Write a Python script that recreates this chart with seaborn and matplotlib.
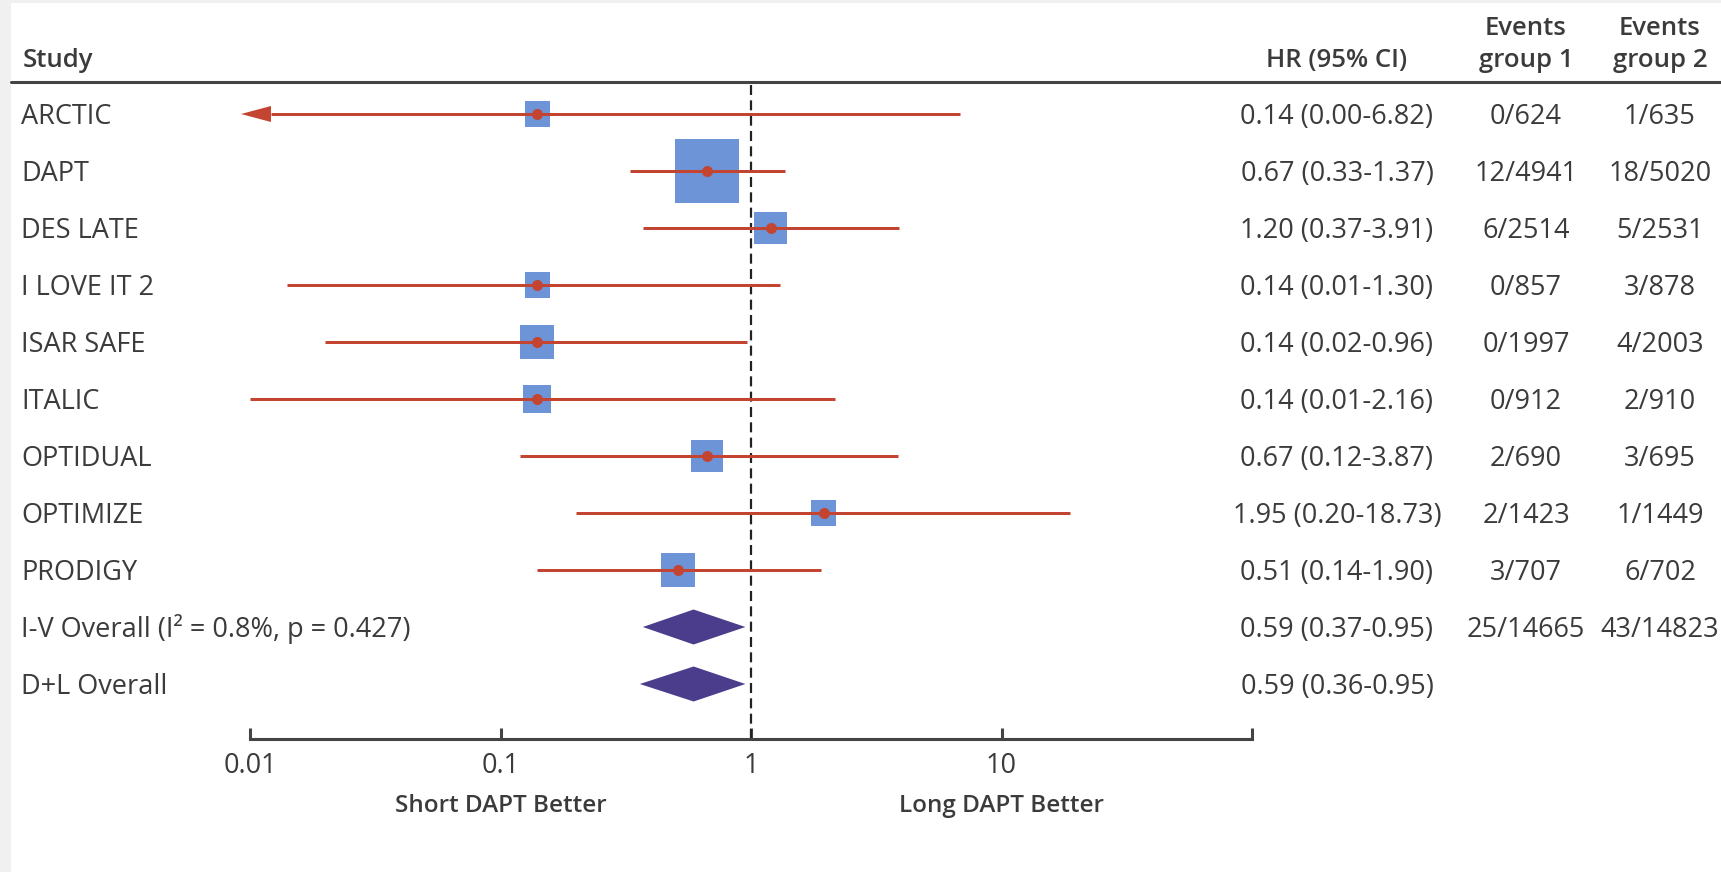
import numpy as np
import pandas as pd
import matplotlib
matplotlib.use("Agg")
import matplotlib.pyplot as plt
import seaborn as sns
from matplotlib.patches import Polygon, Rectangle
from matplotlib.lines import Line2D
from matplotlib.transforms import blended_transform_factory

# ---- data -----------------------------------------------------------------
studies = ["ARCTIC", "DAPT", "DES LATE", "I LOVE IT 2", "ISAR SAFE",
           "ITALIC", "OPTIDUAL", "OPTIMIZE", "PRODIGY"]
hr = [0.14, 0.67, 1.20, 0.14, 0.14, 0.14, 0.67, 1.95, 0.51]
ci_low = [0.00, 0.33, 0.37, 0.014, 0.02, 0.01, 0.12, 0.20, 0.14]
ci_high = [6.82, 1.37, 3.91, 1.30, 0.96, 2.16, 3.87, 18.73, 1.90]
weight = [5.6, 36.6, 9.7, 5.6, 10.3, 7.0, 9.2, 5.6, 10.3]
events_1 = ["0/624", "12/4941", "6/2514", "0/857", "0/1997",
            "0/912", "2/690", "2/1423", "3/707"]
events_2 = ["1/635", "18/5020", "5/2531", "3/878", "4/2003",
            "2/910", "3/695", "1/1449", "6/702"]

pooled_labels = ["I-V Overall (I\u00b2 = 0.8%, p = 0.427)", "D+L Overall"]
pooled_hr = [0.59, 0.59]
pooled_low = [0.37, 0.36]
pooled_high = [0.95, 0.95]
pooled_events_1 = ["25/14665", ""]
pooled_events_2 = ["43/14823", ""]

tick_values = [0.01, 0.1, 1, 10, 100]
tick_labels = ["0.01", "0.1", "1", "10", ""]

# ---- style ----------------------------------------------------------------
sns.set_style("white")
plt.rcParams["font.family"] = ["Open Sans", "DejaVu Sans"]

TEXT = "#3b3b3b"
RULE = "#444444"
BOX = "#6c94d6"
CI = "#c44432"
DIAMOND = "#4b3d8c"

W, H, DPI = 1721, 872, 100
ROW_PX = 57.0


def fx(px):
    return px / W


def fy(py):
    return 1 - py / H


fig = plt.figure(figsize=(W / DPI, H / DPI), dpi=DPI, facecolor="#f0f0f0")
fig.patches.append(Rectangle((fx(11), 0), 1 - fx(11), fy(3), transform=fig.transFigure,
                             facecolor="white", edgecolor="none", zorder=-10))

ax = fig.add_axes([fx(250), fy(739), fx(1252) - fx(250), fy(82) - fy(739)])
ax.set_facecolor("none")
ax.set_xscale("log")
ax.set_xlim(tick_values[0], tick_values[-1])
n_rows = len(studies) + len(pooled_labels)
ax.set_ylim(n_rows - 1 + (739 - 684) / ROW_PX, -(114 - 82) / ROW_PX)

df = pd.DataFrame({"study": studies, "hr": hr, "lo": ci_low, "hi": ci_high,
                   "weight": weight, "y": np.arange(len(studies))})

# weight squares (area proportional to study weight)
max_side_pt = 64 * 72 / DPI
sns.scatterplot(data=df, x="hr", y="y", size="weight",
                sizes=(0, max_side_pt ** 2), size_norm=(0, df["weight"].max()),
                marker="s", color=BOX, linewidth=0, legend=False, ax=ax, zorder=2)

# confidence intervals, with an arrow when the lower bound leaves the axis
xmin = tick_values[0]
lw_ci = 3 * 72 / DPI
for _, r in df.iterrows():
    if r["lo"] < xmin:
        tip = xmin * 10 ** (-0.036)
        base = tip * 10 ** (30 / 250.5)
        ax.hlines(r["y"], base, r["hi"], color=CI, lw=lw_ci, zorder=3)
        half = 8 / ROW_PX
        ax.add_patch(Polygon([(tip, r["y"]), (base, r["y"] - half), (base, r["y"] + half)],
                             closed=True, facecolor=CI, edgecolor="none",
                             clip_on=False, zorder=3))
    else:
        ax.hlines(r["y"], r["lo"], r["hi"], color=CI, lw=lw_ci, zorder=3)

sns.scatterplot(data=df, x="hr", y="y", s=(11 * 72 / DPI) ** 2, color=CI,
                linewidth=0, legend=False, ax=ax, zorder=4)

# pooled estimates as diamonds
half_d = 17.5 / ROW_PX
for k, (m, lo, hi) in enumerate(zip(pooled_hr, pooled_low, pooled_high)):
    y = len(studies) + k
    ax.add_patch(Polygon([(lo, y), (m, y - half_d), (hi, y), (m, y + half_d)],
                         closed=True, facecolor=DIAMOND, edgecolor="none", zorder=3))

# line of no effect
ax.axvline(1, color="#222222", lw=1.6, ls=(0, (4.5, 2.4)), zorder=1)

# axis styling
for side in ("top", "left", "right"):
    ax.spines[side].set_visible(False)
ax.spines["bottom"].set_color(RULE)
ax.spines["bottom"].set_linewidth(2.2)
ax.set_yticks([])
ax.set_xticks(tick_values, labels=tick_labels)
ax.minorticks_off()
ax.tick_params(axis="x", which="major", bottom=True, direction="in", length=8,
               width=2.2, color=RULE, labelsize=19.5, labelcolor=TEXT, pad=9)
ax.set_xlabel("")
ax.set_ylabel("")

# direction labels below the axis
tr_dir = blended_transform_factory(ax.transData, fig.transFigure)
ax.text(0.1, fy(812), "Short DAPT Better", transform=tr_dir, ha="center",
        va="baseline", fontsize=17.5, fontweight="semibold", color=TEXT)
ax.text(10, fy(812), "Long DAPT Better", transform=tr_dir, ha="center",
        va="baseline", fontsize=17.5, fontweight="semibold", color=TEXT)

# header row
fig.add_artist(Line2D([fx(11), 1], [fy(82), fy(82)], transform=fig.transFigure,
                      color=RULE, lw=2.2))
hdr = dict(fontsize=18.5, fontweight="semibold", color=TEXT, va="baseline")
X_LABEL, X_HR, X_EV1, X_EV2 = 21, 1337, 1526, 1660
fig.text(fx(23), fy(67), "Study", ha="left", **hdr)
fig.text(fx(X_HR), fy(67), "HR (95% CI)", ha="center", **hdr)
fig.text(fx(X_EV1), fy(35), "Events", ha="center", **hdr)
fig.text(fx(X_EV1), fy(67), "group 1", ha="center", **hdr)
fig.text(fx(X_EV2), fy(35), "Events", ha="center", **hdr)
fig.text(fx(X_EV2), fy(67), "group 2", ha="center", **hdr)

# table columns
tr_row = blended_transform_factory(fig.transFigure, ax.transData)
row_txt = dict(fontsize=19.5, color=TEXT, va="baseline", transform=tr_row)
base_off = 10 / ROW_PX

labels_all = studies + pooled_labels
hr_all = hr + pooled_hr
lo_all = ci_low + pooled_low
hi_all = ci_high + pooled_high
ev1_all = events_1 + pooled_events_1
ev2_all = events_2 + pooled_events_2
for i in range(n_rows):
    yb = i + base_off
    fig.text(fx(X_LABEL), yb, labels_all[i], ha="left", **row_txt)
    fig.text(fx(X_HR), yb, f"{hr_all[i]:.2f} ({lo_all[i]:.2f}-{hi_all[i]:.2f})",
             ha="center", **row_txt)
    fig.text(fx(X_EV1), yb, ev1_all[i], ha="center", **row_txt)
    fig.text(fx(X_EV2), yb, ev2_all[i], ha="center", **row_txt)

fig.savefig("out.png", dpi=DPI, facecolor=fig.get_facecolor())
